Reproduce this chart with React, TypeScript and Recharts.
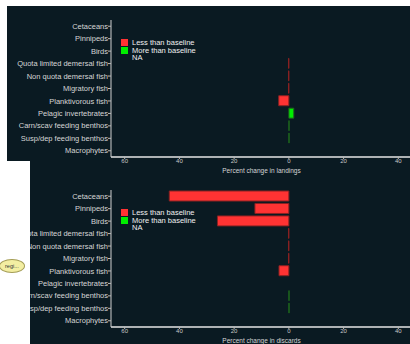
import { BarChart, Bar, XAxis, YAxis, Cell, Legend, Label } from "recharts";

// Ecosystem groups, top to bottom
const groups = [
  "Cetaceans",
  "Pinnipeds",
  "Birds",
  "Quota limited demersal fish",
  "Non quota demersal fish",
  "Migratory fish",
  "Planktivorous fish",
  "Pelagic invertebrates",
  "Carn/scav feeding benthos",
  "Susp/dep feeding benthos",
  "Macrophytes",
];

// percent change vs baseline (null = NA)
const landingsChange = [null, null, null, -0.1, -0.1, -0.1, -3.7, 1.8, 0.1, 0.1, null];
const discardsChange = [-43.7, -12.4, -26.1, -0.1, -0.1, -0.1, -3.6, null, 0.1, 0.1, null];

const xTicks = [-60, -40, -20, 0, 20, 40];

const BG = "#0a1a22";
const RED = "#ff3333";
const RED_EDGE = "#8a2222";
const GREEN = "#00ee00";
const GREEN_EDGE = "#1f5f1f";
const INK = "#d6d6d6";
const FONT = "'Liberation Sans', Arial, sans-serif";

// single-line group name (the default tick wraps long names)
function GroupTick(props: any) {
  const { x, y, payload } = props;
  return (
    <text x={x} y={y} dy="0.35em" textAnchor="end" fill={INK} fontSize={7.5}>
      {payload.value}
    </text>
  );
}

function ChangeLegend() {
  const row = { display: "flex", alignItems: "center", height: 7.5, whiteSpace: "nowrap" as const };
  const swatch = (c: string) => ({ width: 7, height: 7, background: c, marginRight: 4 });
  return (
    <div style={{ fontSize: 7.5, color: "#f0f0f0", lineHeight: "7px" }}>
      <div style={row}>
        <span style={swatch(RED)} />
        <span>Less than baseline</span>
      </div>
      <div style={row}>
        <span style={swatch(GREEN)} />
        <span>More than baseline</span>
      </div>
      <div style={row}>
        <span style={{ width: 7, marginRight: 4 }} />
        <span>NA</span>
      </div>
    </div>
  );
}

function ChangePanel({ values, title }: { values: (number | null)[]; title: string }) {
  const data = groups.map((g, i) => ({ group: g, change: values[i] }));
  return (
    <BarChart
      width={405}
      height={172}
      data={data}
      layout="vertical"
      margin={{ top: 14, right: 0, bottom: 5, left: 0 }}
      barCategoryGap={1}
    >
      <XAxis
        type="number"
        domain={[-65, 45]}
        ticks={xTicks}
        interval={0}
        allowDataOverflow
        tickFormatter={(v: number) => String(Math.abs(v))}
        tick={{ fill: "#c8c8c8", fontSize: 6 }}
        tickSize={2}
        tickMargin={0}
        height={16}
        axisLine={{ stroke: "#e6e6e6", strokeWidth: 1.5 }}
        tickLine={{ stroke: "#bbbbbb" }}
      >
        <Label value={title} position="insideBottom" offset={0} fill={INK} fontSize={6.5} />
      </XAxis>
      <YAxis
        type="category"
        dataKey="group"
        width={104}
        interval={0}
        tick={<GroupTick />}
        tickSize={3}
        tickMargin={0}
        axisLine={{ stroke: "#d0d0d0" }}
        tickLine={{ stroke: "#bbbbbb" }}
      />
      <Legend
        layout="vertical"
        align="center"
        verticalAlign="middle"
        content={() => <ChangeLegend />}
        wrapperStyle={{ left: 114, top: 33, width: 120 }}
      />
      <Bar dataKey="change" isAnimationActive={false} strokeWidth={1}>
        {data.map((d, i) => (
          <Cell
            key={i}
            fill={d.change !== null && d.change < 0 ? RED : GREEN}
            stroke={d.change !== null && d.change < 0 ? RED_EDGE : GREEN_EDGE}
          />
        ))}
      </Bar>
    </BarChart>
  );
}

export default function App() {
  return (
    <div
      style={{
        position: "absolute",
        left: 0,
        top: 0,
        width: 410,
        height: 344,
        overflow: "hidden",
        background: "#ffffff",
        fontFamily: FONT,
      }}
    >
      {/* landings panel background */}
      <div style={{ position: "absolute", left: 7, top: 6, width: 403, height: 155, background: BG }} />

      {/* discards panel, clipped on the left */}
      <div
        style={{
          position: "absolute",
          left: 30,
          top: 161,
          width: 380,
          height: 183,
          background: BG,
          overflow: "hidden",
        }}
      >
        <div style={{ position: "absolute", left: -23, top: 15 }}>
          <ChangePanel values={discardsChange} title="Percent change in discards" />
        </div>
      </div>

      <div style={{ position: "absolute", left: 7, top: 6 }}>
        <ChangePanel values={landingsChange} title="Percent change in landings" />
      </div>

      {/* region selector bubble */}
      <div
        style={{
          position: "absolute",
          left: -1,
          top: 259,
          width: 26,
          height: 14,
          borderRadius: "50%",
          background: "#f3eea2",
          border: "1px solid #a39c55",
          boxSizing: "border-box",
          fontSize: 5.5,
          color: "#333",
          lineHeight: "12px",
          paddingLeft: 5,
          whiteSpace: "nowrap",
          overflow: "hidden",
        }}
      >
        regi...
      </div>
    </div>
  );
}
